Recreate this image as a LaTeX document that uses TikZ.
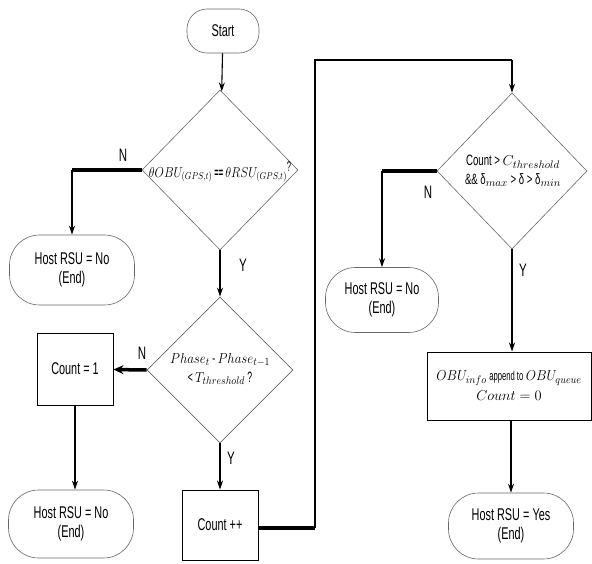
\documentclass[tikz,border=0pt]{standalone}
\usepackage{fontspec}
\setmainfont{Liberation Sans}[FakeStretch=0.64]
\usetikzlibrary{arrows.meta,shapes.geometric}

\begin{document}
\begin{tikzpicture}[
  x=1pt, y=-1pt,
  font=\fontsize{17}{19}\selectfont,
  term/.style={draw=black!60, line width=.6pt, rounded corners=#1, align=center, inner sep=0pt},
  term/.default=30pt,
  proc/.style={draw=black, line width=1pt, align=center, inner sep=0pt},
  decide/.style={diamond, draw=black!60, line width=.6pt, inner sep=0pt},
  cond/.style={align=center, inner sep=0pt, font=\fontsize{15}{19}\selectfont},
  flow/.style={-{Stealth[length=9pt,width=6pt]}, line width=1.1pt},
  heavy/.style={line width=3.5pt},
  loopline/.style={line width=2.6pt},
  yn/.style={font=\fontsize{18}{20}\selectfont, inner sep=1pt}
]
  \useasboundingbox (0,0) rectangle (592,564);

  % left column
  \node[term=20pt, minimum width=72pt, minimum height=44pt] (start) at (223,31) {Start};
  \node[decide, minimum width=156pt, minimum height=160pt] (match) at (220,170) {};
  \node[cond, font=\fontsize{14}{16}\selectfont] (matchtxt) at (220,172)
    {\scalebox{0.84}[1]{$\theta OBU_{(GPS,t)}$ \textbf{==} $\theta RSU_{(GPS,t)}$\raisebox{6pt}{?}}};
  \node[term, minimum width=125pt, minimum height=70pt] (hostA) at (72,270) {Host RSU = No\\(End)};
  \node[decide, minimum width=146pt, minimum height=146pt] (phase) at (220,370) {};
  \node[cond] (phasetxt) at (220,369)
    {\scalebox{0.9}[1]{$Phase_t$ - $Phase_{t-1}$}\\\scalebox{0.9}[1]{< $T_{threshold}$ ?}};
  \node[proc, minimum width=76pt, minimum height=72pt] (reset) at (75,369) {Count = 1};
  \node[term, minimum width=125pt, minimum height=68pt] (hostB) at (71,524) {Host RSU = No\\(End)};
  \node[proc, minimum width=76pt, minimum height=70pt] (incr) at (220,525) {Count ++};

  % right column
  \node[decide, minimum width=150pt, minimum height=156pt] (check) at (512,171) {};
  \node[cond] (checktxt) at (513,171) {Count > $C_{threshold}$\\\&\& δ$_{max}$ > δ > δ$_{min}$};
  \node[term, minimum width=113pt, minimum height=65pt] (hostC) at (382,300) {Host RSU = No\\(End)};
  \node[proc, minimum width=164pt, minimum height=68pt, font=\fontsize{15}{20}\selectfont] (queue) at (509,386)
    {\scalebox{0.92}[1]{$OBU_{info}$ {\fontsize{13}{13}\selectfont append to} $OBU_{queue}$}\\$Count = 0$};
  \node[term, minimum width=125pt, minimum height=66pt] (hostD) at (511,526) {Host RSU = Yes\\(End)};

  \coordinate (looplow) at (315,528);
  \coordinate (looptop) at (315,60);

  \draw[flow] (start) -- (match);
  \draw[heavy] (match.west) -- (match.west -| hostA);
  \draw[flow] (match.west -| hostA) -- (hostA);
  \draw[flow] (match) -- (phase);
  \draw[heavy, -{Stealth[length=10pt,width=9pt]}] (phase.west) -- (reset);
  \draw[flow] (reset) -- (reset |- hostB.north);
  \draw[flow] (phase) -- (incr);

  \draw[heavy] (incr.east |- looplow) -- (looplow);
  \draw[loopline] (looplow) -- (looptop) -- (looptop -| check.north);
  \draw[flow] (looptop -| check.north) -- (check);

  \draw[heavy] (check.west) -- (check.west -| hostC);
  \draw[flow] (check.west -| hostC) -- (hostC);
  \draw[flow] (check.south) -- (check.south |- queue.north);
  \draw[flow] (queue.south -| hostD) -- (hostD);

  \node[yn] (nmatch) at (123,155) {N};
  \node[yn] (ymatch) at (243,265) {Y};
  \node[yn] (nphase) at (142,353) {N};
  \node[yn] (yphase) at (231,458) {Y};
  \node[yn] (ncheck) at (428,192) {N};
  \node[yn] (ycheck) at (523,270) {Y};
\end{tikzpicture}
\end{document}
